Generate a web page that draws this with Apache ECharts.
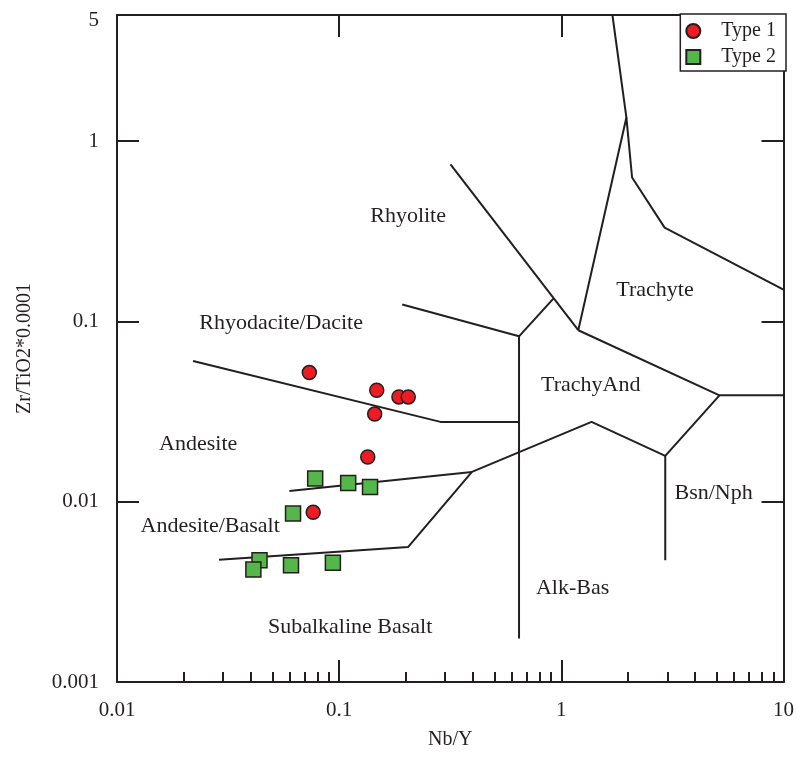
<!DOCTYPE html>
<html>
<head>
<meta charset="utf-8">
<script src="https://cdn.jsdelivr.net/npm/echarts@6/dist/echarts.min.js"></script>
<style>html,body{margin:0;padding:0;background:#fff;}#chart{width:797px;height:765px;}</style>
</head>
<body>
<div id="chart"></div>
<script>
// ---- Data (Nb/Y, Zr/TiO2*0.0001) ----
const type1NbY = [0.0734, 0.1476, 0.1858, 0.2046, 0.1445, 0.1345, 0.0764];
const type1Zr  = [0.0520, 0.0415, 0.0381, 0.0381, 0.0306, 0.0177, 0.00873];
const type2NbY = [0.0780, 0.1098, 0.1377, 0.0620, 0.0438, 0.0411, 0.0607, 0.0937];
const type2Zr  = [0.01343, 0.01270, 0.01206, 0.00859, 0.00473, 0.00420, 0.00444, 0.00459];

// Field boundaries [Nb/Y, Zr/TiO2]
const lineRhyodaciteAndesite = [[0.0220,0.0603],[0.2857,0.0277],[0.645,0.0277]];
const lineRhyoliteRhyodacite = [[0.1923,0.1239],[0.645,0.0826],[0.921,0.1337]];
const lineRhyoliteTrachyAnd  = [[0.317,0.743],[1.192,0.0893]];
const lineSubalkAlk          = [[0.645,0.0826],[0.645,0.00174]];
const lineTrachyteLeft       = [[1.192,0.0893],[1.963,1.349],[1.698,5]];
const lineTrachyteRight      = [[1.963,1.349],[2.082,0.628],[2.917,0.331],[10,0.150]];
const lineTrachyteTrachyAnd  = [[1.192,0.0893],[5.15,0.0389],[10,0.0389]];
const lineBsnNph             = [[5.15,0.0389],[2.936,0.01793],[2.936,0.00473]];
const lineTrachyAndBasalt    = [[2.936,0.01793],[1.368,0.0277],[0.396,0.01462],[0.2046,0.00561],[0.0288,0.00477]];
const lineAndesiteAndBas     = [[0.0597,0.01146],[0.396,0.01462]];

// Field labels
const fieldNames = ['Rhyolite','Trachyte','Rhyodacite/Dacite','TrachyAnd','Andesite','Bsn/Nph','Andesite/Basalt','Alk-Bas','Subalkaline Basalt'];
const fieldNbY   = [0.2043, 2.64, 0.0548, 1.357, 0.0232, 4.845, 0.02626, 1.124, 0.112];
const fieldZr    = [0.383, 0.1488, 0.0972, 0.0442, 0.0208, 0.01117, 0.00733, 0.003296, 0.002018];

// Axis ticks
const xMajorTicks = [0.01, 0.1, 1, 10];
const xMinorTicks = [0.02,0.03,0.04,0.05,0.06,0.07,0.08,0.09,0.2,0.3,0.4,0.5,0.6,0.7,0.8,0.9,2,3,4,5,6,7,8,9];
const yMajorTicks = [0.001, 0.01, 0.1, 1];
const yLabelTicks = [0.001, 0.01, 0.1, 1, 5];
const xRange = [0.01, 10];
const yRange = [0.001, 5];

const L = Math.log10;
const toLog = pts => pts.map(p => [L(p[0]), L(p[1])]);
const fmt = v => String(parseFloat(Math.pow(10, v).toPrecision(2)));
const INK = '#231f20';
const FONT = 'Liberation Serif';
const yMaxLog = L(yRange[1]);
const fmtY = v => Math.abs(v - yMaxLog) < 1e-9 ? '{m|' + fmt(v) + '}' : fmt(v);

const baseX = {type:'value', min:L(xRange[0]), max:L(xRange[1]), splitLine:{show:false}, gridIndex:0};
const baseY = {type:'value', min:L(yRange[0]), max:yMaxLog, splitLine:{show:false}, gridIndex:0};

const lines = [lineRhyodaciteAndesite, lineRhyoliteRhyodacite, lineRhyoliteTrachyAnd, lineSubalkAlk,
  lineTrachyteLeft, lineTrachyteRight, lineTrachyteTrachyAnd, lineBsnNph, lineTrachyAndBasalt, lineAndesiteAndBas];

const series = lines.map((ln, i) => ({
  name: 'b' + i, type:'line', data: toLog(ln), symbol:'none', silent:true, z:2,
  lineStyle:{color:INK, width:2}, itemStyle:{color:INK}, animation:false
}));

series.push({
  name:'fields', type:'scatter', silent:true, symbolSize:1, z:3,
  itemStyle:{color:'#ffffff', borderWidth:0, opacity:1},
  data: fieldNames.map((n,i) => ({name:n, value:[L(fieldNbY[i]), L(fieldZr[i])]})),
  label:{show:true, position:'inside', formatter:'{b}', color:INK, opacity:1,
    textBorderWidth:0, textBorderColor:'transparent', fontFamily:FONT, fontSize:22},
  labelLayout:{hideOverlap:false},
  animation:false
});

series.push({
  name:'Type 1', type:'scatter', symbol:'circle', symbolSize:14, z:5,
  data: type1NbY.map((x,i) => [L(x), L(type1Zr[i])]),
  itemStyle:{color:'#ed1c24', borderColor:INK, borderWidth:1.5, opacity:1}, animation:false
});
series.push({
  name:'Type 2', type:'scatter', symbol:'rect', symbolSize:15, z:4,
  data: type2NbY.map((x,i) => [L(x), L(type2Zr[i])]),
  itemStyle:{color:'#55b64a', borderColor:INK, borderWidth:1.5, opacity:1}, animation:false
});

const chart = echarts.init(document.getElementById('chart'), null, {renderer:'canvas'});
chart.setOption({
  animation:false,
  backgroundColor:'#fff',
  grid:{left:117, right:11, top:15, bottom:83, containLabel:false},
  legend:{
    data:['Type 1','Type 2'], orient:'vertical', right:11, top:14,
    backgroundColor:'#fff', borderColor:INK, borderWidth:1.5, borderRadius:0,
    padding:[7,10,4,5], itemGap:6, itemWidth:14, itemHeight:14,
    textStyle:{color:INK, fontFamily:FONT, fontSize:20, padding:[0,0,0,16]}
  },
  xAxis:[
    Object.assign({}, baseX, {
      position:'bottom', name:'Nb/Y', nameLocation:'middle', nameGap:48,
      nameTextStyle:{color:INK, fontFamily:FONT, fontSize:20},
      axisLine:{show:true, onZero:false, lineStyle:{color:INK, width:2}},
      axisTick:{show:true, inside:true, length:22, lineStyle:{color:INK, width:2}, customValues:xMajorTicks.map(L)},
      axisLabel:{show:true, margin:18, color:INK, fontFamily:FONT, fontSize:21, formatter:fmt, customValues:xMajorTicks.map(L)}
    }),
    Object.assign({}, baseX, {
      position:'bottom',
      axisLine:{show:false, onZero:false},
      axisTick:{show:true, inside:true, length:10, lineStyle:{color:INK, width:2}, customValues:xMinorTicks.map(L)},
      axisLabel:{show:false}
    }),
    Object.assign({}, baseX, {
      position:'top',
      axisLine:{show:true, onZero:false, lineStyle:{color:INK, width:2}},
      axisTick:{show:true, inside:true, length:22, lineStyle:{color:INK, width:2}, customValues:xMajorTicks.map(L)},
      axisLabel:{show:false}
    })
  ],
  yAxis:[
    Object.assign({}, baseY, {
      position:'left', name:'Zr/TiO2*0.0001', nameLocation:'middle', nameGap:82,
      nameTextStyle:{color:INK, fontFamily:FONT, fontSize:20},
      axisLine:{show:true, onZero:false, lineStyle:{color:INK, width:2}},
      axisTick:{show:true, inside:true, length:22, lineStyle:{color:INK, width:2}, customValues:yMajorTicks.map(L)},
      axisLabel:{show:true, margin:18, color:INK, fontFamily:FONT, fontSize:21, formatter:fmtY, customValues:yLabelTicks.map(L),
        rich:{m:{color:INK, fontFamily:FONT, fontSize:21, padding:[11,0,0,0]}}}
    }),
    Object.assign({}, baseY, {
      position:'right',
      axisLine:{show:true, onZero:false, lineStyle:{color:INK, width:2}},
      axisTick:{show:true, inside:true, length:22, lineStyle:{color:INK, width:2}, customValues:yMajorTicks.map(L)},
      axisLabel:{show:false}
    })
  ],
  series: series
});
</script>
</body>
</html>
